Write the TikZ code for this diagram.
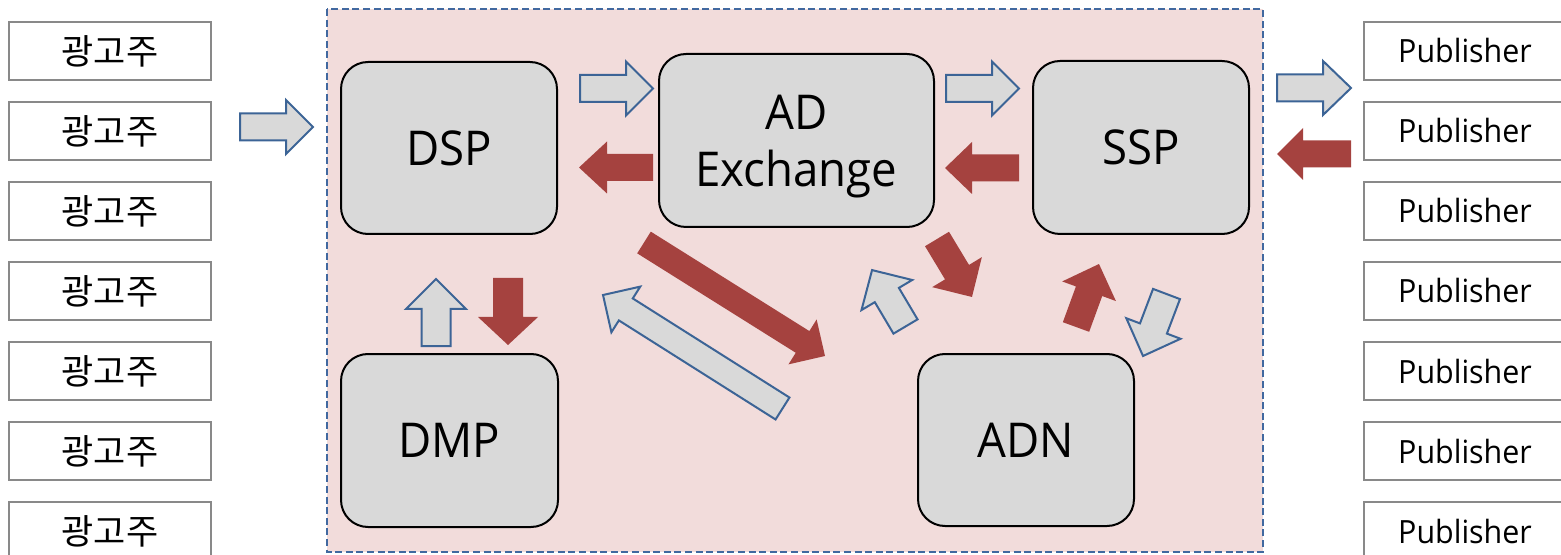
\documentclass[tikz,border=0pt]{standalone}
\usepackage{fontspec}
\setmainfont{Open Sans}[FakeStretch=0.95]
\newfontfamily\krfont{Noto Sans CJK KR}
\usetikzlibrary{positioning}

\definecolor{panelpink}{RGB}{242,220,219}
\definecolor{panelblue}{RGB}{65,105,160}
\definecolor{boxgray}{RGB}{217,217,217}
\definecolor{edgegray}{RGB}{137,137,137}
\definecolor{flowred}{RGB}{165,66,63}
\definecolor{flowblue}{RGB}{60,100,150}

% block arrow: style, tail (x,y), tip (x,y), shaft half width, head half width, head length
\newcommand\blockarrow[8]{%
  \pgfmathsetmacro\baAng{atan2(-(#5-#3),#4-#2)}%
  \pgfmathsetmacro\baLen{veclen(#4-#2,#5-#3)}%
  \pgfmathsetmacro\baBase{\baLen-#8}%
  \draw[#1,shift={(#2,#3)},rotate=\baAng]
    (0,-#6) -- (\baBase,-#6) -- (\baBase,-#7) -- (\baLen,0)
    -- (\baBase,#7) -- (\baBase,#6) -- (0,#6) -- cycle;}

\tikzset{
  party/.style={draw=edgegray, line width=1pt, fill=white, inner sep=0pt,
    minimum width=101pt, minimum height=29pt, font=\fontsize{16}{19}\selectfont},
  player/.style={draw=black, line width=1pt, fill=boxgray, rounded corners=13.5pt,
    inner sep=0pt, align=center, text depth=0pt,
    font=\fontsize{24}{28.5}\selectfont},
  bluearrow/.style={draw=flowblue, fill=boxgray, line width=1pt, line join=miter},
  redarrow/.style={draw=none, fill=flowred}
}

\begin{document}
\begin{tikzpicture}[x=0.5pt,y=-0.5pt]
\useasboundingbox (0,0) rectangle (1561,555);
\begin{scope}
\clip (0,0) rectangle (1561,555);

% advertisers and publishers
\foreach \k in {0,...,6}{
  \node[party] (adv\k) at (110,{51+80*\k}) {\krfont\fontsize{17.5}{20}\selectfont 광고주};
  \node[party] (pub\k) at (1465,{51+80*\k}) {Publisher};
}

% ad-tech platform panel
\draw[panelblue, fill=panelpink, line width=1pt, dash pattern=on 3.5pt off 1.8pt]
  (327,9) rectangle (1263,552);

\node[player, minimum width=108pt, minimum height=86pt] (dsp) at (449,148) {DSP};
\node[player, minimum width=137.5pt, minimum height=86.5pt] (adx) at (796.5,140.5) {AD\\Exchange};
\node[player, minimum width=108pt, minimum height=86.5pt] (ssp) at (1141,147.5) {SSP};
\node[player, minimum width=108.5pt, minimum height=86.5pt] (dmp) at (449.5,440.5) {DMP};
\node[player, minimum width=108pt, minimum height=86pt] (adn) at (1026,440) {ADN};

% flows
\blockarrow{bluearrow}{240}{127}{313}{127}{13.5}{27}{27}
\blockarrow{bluearrow}{580}{88.5}{653}{88.5}{13.5}{27}{27}
\blockarrow{redarrow}{653}{167.5}{579}{167.5}{13.5}{26}{28}
\blockarrow{bluearrow}{946}{88.5}{1019}{88.5}{13.5}{27}{27}
\blockarrow{redarrow}{1019}{168}{945}{168}{13.5}{26}{27}
\blockarrow{bluearrow}{1277}{88}{1351}{88}{13.5}{27}{28}
\blockarrow{redarrow}{1351}{154}{1277}{154}{13.5}{26}{26}
\blockarrow{bluearrow}{436}{346}{436}{279}{14.5}{30}{30}
\blockarrow{redarrow}{508}{278}{508}{345}{15}{30}{28}
\blockarrow{redarrow}{644}{242.5}{825}{356}{12.8}{26.5}{26.5}
\blockarrow{bluearrow}{782.5}{408.5}{603}{295}{13}{27}{27}
\blockarrow{redarrow}{937}{239}{972}{297}{14}{29}{29}
\blockarrow{bluearrow}{905.5}{326.5}{872}{270}{14}{29.5}{29}
\blockarrow{redarrow}{1076}{327}{1099}{264}{14}{28.6}{29}
\blockarrow{bluearrow}{1166.5}{294}{1143}{356}{14.4}{29}{29.4}
\end{scope}
\end{tikzpicture}
\end{document}
